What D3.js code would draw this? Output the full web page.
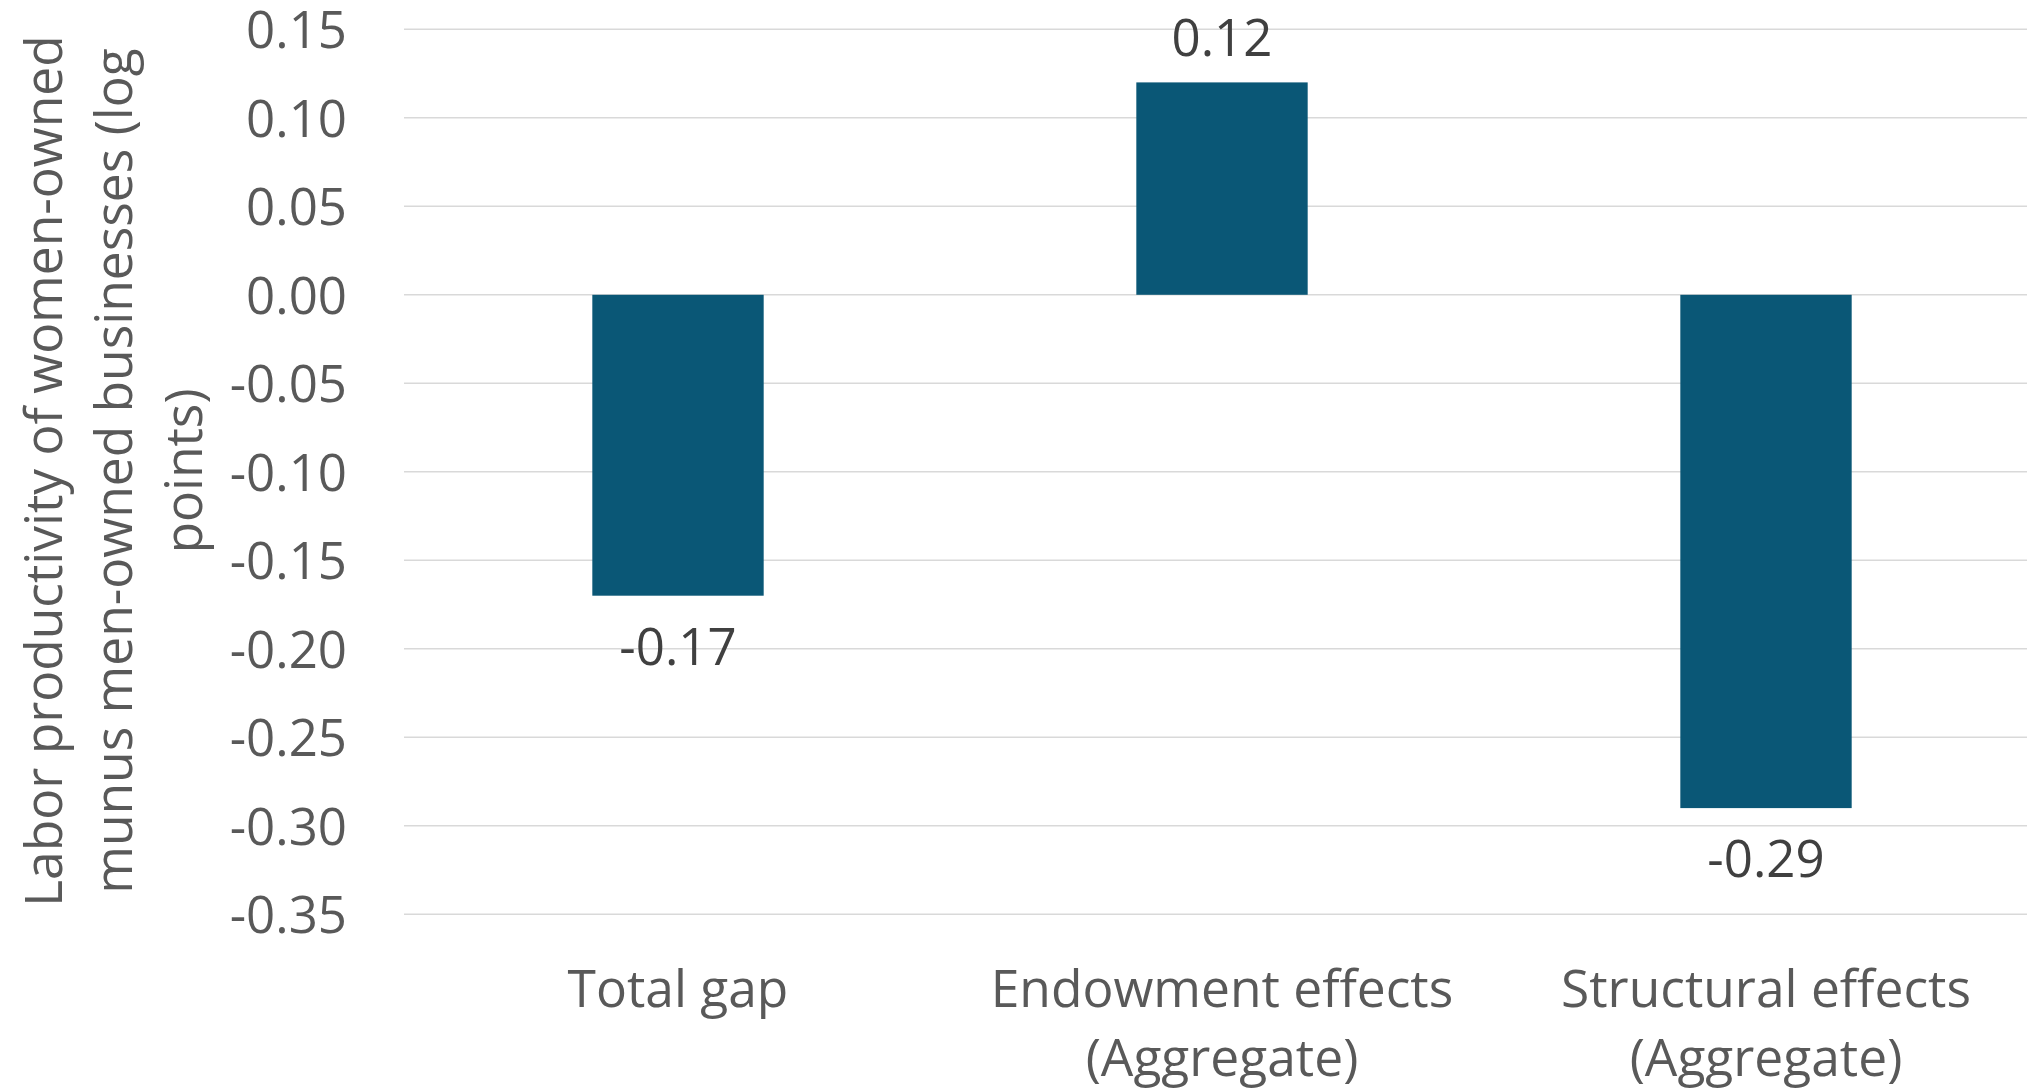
<!DOCTYPE html>
<html>
<head>
<meta charset="utf-8">
<script src="https://cdn.jsdelivr.net/npm/d3@7"></script>
<style>
  html, body { margin: 0; padding: 0; background: #fff; }
  svg { display: block; font-family: "Open Sans", sans-serif; }
</style>
</head>
<body>
<svg id="chart" width="2027" height="1092"></svg>
<script>
// Decomposition of the labor productivity gap
const categories = ["Total gap", "Endowment effects\n(Aggregate)", "Structural effects\n(Aggregate)"];
const values = [-0.17, 0.12, -0.29];
const valueLabels = ["-0.17", "0.12", "-0.29"];
const yTicks = [0.15, 0.10, 0.05, 0.00, -0.05, -0.10, -0.15, -0.20, -0.25, -0.30, -0.35];
const yTitleLines = ["Labor productivity of women-owned", "munus men-owned businesses (log", "points)"];

const svg = d3.select("#chart");
const W = 2027, H = 1092;
const plot = { left: 404, top: 29.3, bottom: 914.3, bandStart: 406, bandEnd: 2038 };

const y = d3.scaleLinear()
  .domain([-0.35, 0.15])
  .range([plot.bottom, plot.top]);

const x = d3.scaleBand()
  .domain(categories)
  .range([plot.bandStart, plot.bandEnd])
  .paddingInner(0.685)
  .paddingOuter(0.3425);

// gridlines
svg.append("g")
  .selectAll("line")
  .data(yTicks)
  .join("line")
  .attr("x1", plot.left)
  .attr("x2", W)
  .attr("y1", d => y(d))
  .attr("y2", d => y(d))
  .attr("stroke", "#d9d9d9")
  .attr("stroke-width", 1.5);

// y axis tick labels
const yAxis = d3.axisLeft(y)
  .tickValues(yTicks)
  .tickSize(0)
  .tickPadding(0)
  .tickFormat(d => (d < 0 ? "-" : "") + d3.format(".2f")(Math.abs(d)));

const yg = svg.append("g")
  .attr("transform", "translate(347,0)")
  .call(yAxis);
yg.select(".domain").remove();
yg.selectAll("text")
  .attr("fill", "#595959")
  .attr("font-size", 51)
  .attr("font-family", "Open Sans, sans-serif")
  .attr("dy", "0.357em");

// bars
svg.append("g")
  .selectAll("rect")
  .data(values)
  .join("rect")
  .attr("x", (d, i) => x(categories[i]))
  .attr("width", x.bandwidth())
  .attr("y", d => y(Math.max(0, d)))
  .attr("height", d => Math.abs(y(d) - y(0)))
  .attr("fill", "#0a5776");

// value labels
svg.append("g")
  .selectAll("text")
  .data(values)
  .join("text")
  .attr("x", (d, i) => x(categories[i]) + x.bandwidth() / 2)
  .attr("y", d => d >= 0 ? y(d) - 26 : y(d) + 69)
  .attr("text-anchor", "middle")
  .attr("font-size", 51)
  .attr("fill", "#404040")
  .text((d, i) => valueLabels[i]);

// category labels
const cg = svg.append("g");
categories.forEach(c => {
  const lines = c.split("\n");
  const t = cg.append("text")
    .attr("text-anchor", "middle")
    .attr("font-size", 51.5)
    .attr("fill", "#595959");
  lines.forEach((ln, j) => {
    t.append("tspan")
      .attr("x", x(c) + x.bandwidth() / 2)
      .attr("y", 1007 + j * 69)
      .text(ln);
  });
});

// y axis title
const tt = svg.append("text")
  .attr("transform", "translate(0,471) rotate(-90)")
  .attr("text-anchor", "middle")
  .attr("font-size", 51.5)
  .attr("fill", "#595959");
yTitleLines.forEach((ln, j) => {
  tt.append("tspan")
    .attr("x", 0)
    .attr("y", 62 + j * 70)
    .text(ln);
});
</script>
</body>
</html>
